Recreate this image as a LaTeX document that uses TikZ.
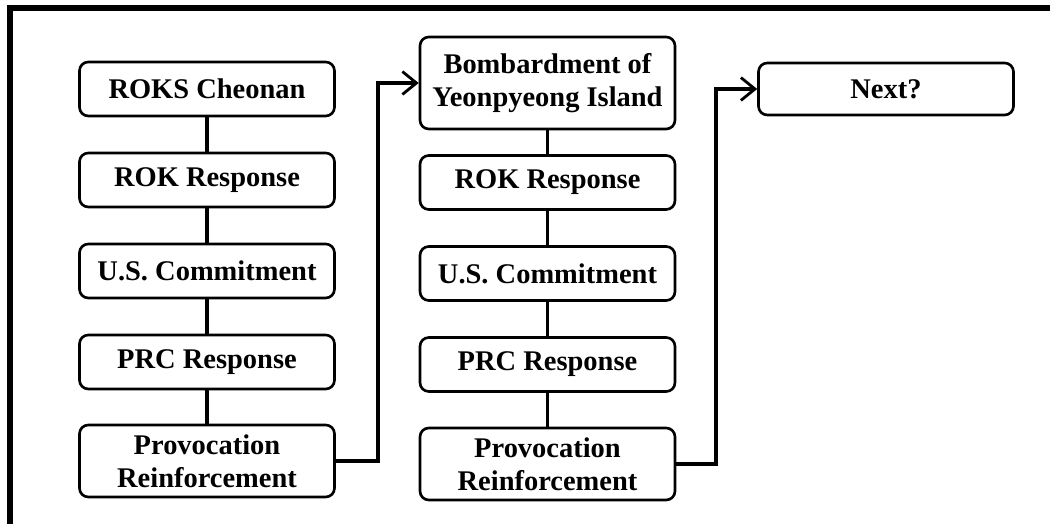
\documentclass[tikz,border=0pt]{standalone}
\usepackage{fontspec}
\setmainfont{Liberation Serif}
\usetikzlibrary{positioning, arrows.meta, calc}

\begin{document}
\begin{tikzpicture}[
    >={Straight Barb[length=8pt, width=13pt, line width=1.6pt]},
    event/.style={draw, line width=1.5pt, rounded corners=5pt,
        minimum width=5.1cm, minimum height=1.08cm, inner sep=0pt,
        align=center, font=\fontsize{16.2}{18.6}\selectfont\bfseries},
    link/.style={line width=1.8pt},
    flow/.style={->, line width=2.4pt}
]

    \useasboundingbox (0,0) rectangle (21,10.48);

    % Frame (only the top and left edges show)
    \draw[line width=3pt] (0.2,-0.5) -- (0.2,10.32) -- (21.5,10.32);

    % First round
    \node[event] (cheonan) at (4.14,8.70) {ROKS Cheonan};
    \node[event] (rok1) at (4.14,6.88) {ROK Response};
    \node[event] (us1) at (4.14,5.06) {U.S. Commitment};
    \node[event] (prc1) at (4.14,3.24) {PRC Response};
    \node[event, minimum height=1.44cm] (prov1) at (4.14,1.26)
        {Provocation\\Reinforcement};

    % Second round
    \node[event, minimum height=1.84cm] (bomb) at (10.95,8.82)
        {Bombardment of\\Yeonpyeong Island};
    \node[event] (rok2) at (10.95,6.83) {ROK Response};
    \node[event] (us2) at (10.95,5.01) {U.S. Commitment};
    \node[event] (prc2) at (10.95,3.19) {PRC Response};
    \node[event, minimum height=1.44cm] (prov2) at (10.95,1.20)
        {Provocation\\Reinforcement};

    % Third round
    \node[event, minimum height=1.04cm] (next) at (17.72,8.70) {Next?};

    % Chains
    \foreach \a/\b in {cheonan/rok1, rok1/us1, us1/prc1, prc1/prov1,
                       bomb/rok2, rok2/us2, us2/prc2, prc2/prov2} {
        \draw[link] (\a) -- (\b);
    }

    % Escalation
    \draw[flow] (prov1.east) -- ++(0.84,0) |- (bomb.west);
    \draw[flow] (prov2.east) -- ++(0.8,0) |- (next.west);

\end{tikzpicture}
\end{document}
